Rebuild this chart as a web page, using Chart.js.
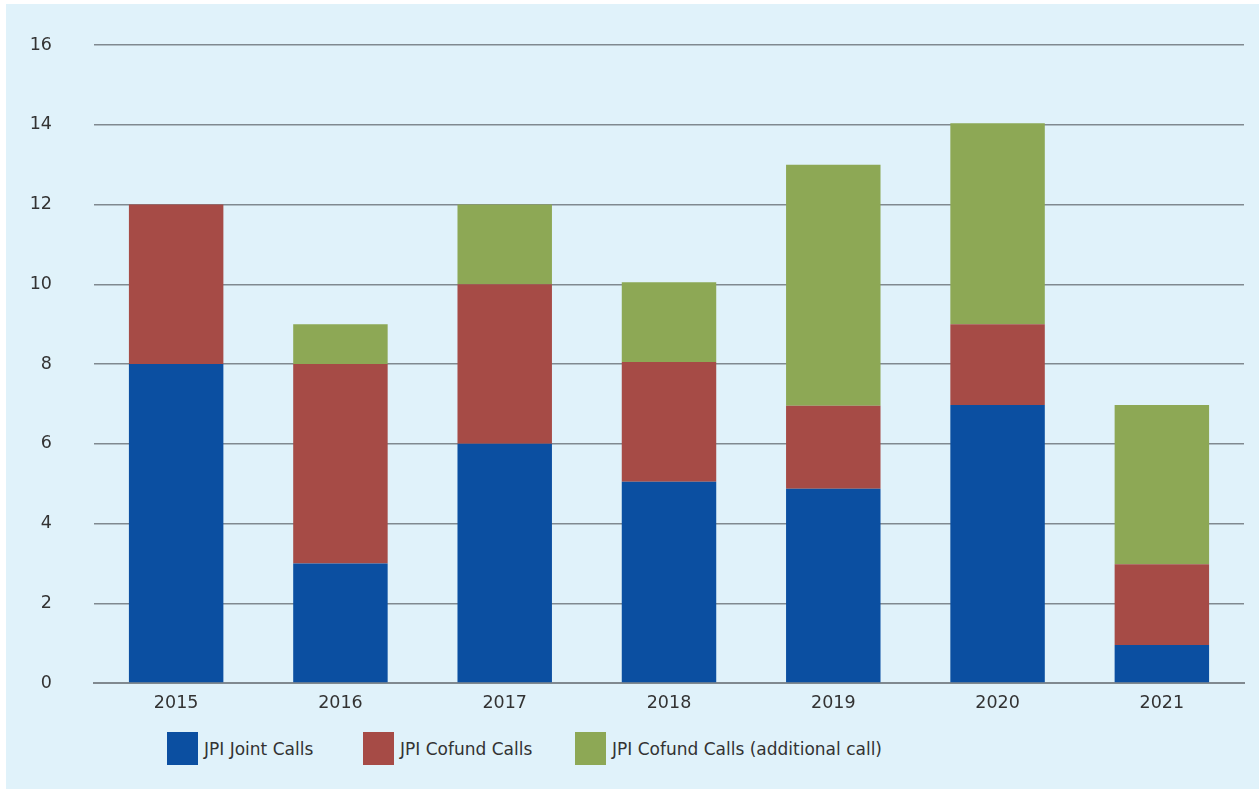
<!DOCTYPE html>
<html>
<head>
<meta charset="utf-8">
<script src="https://cdn.jsdelivr.net/npm/chart.js@4.4.1/dist/chart.umd.min.js"></script>
<style>
  html, body { margin: 0; padding: 0; background: #ffffff; }
  #panel {
    position: absolute; left: 6px; top: 4px; width: 1253px; height: 785px;
    background: #e0f2fa;
  }
  #wrap { position: absolute; left: 0; top: 0; width: 1253px; height: 720px; }
  #legend {
    position: absolute; left: 0; top: 728px; width: 1253px; height: 34px;
    font-family: "DejaVu Sans", sans-serif; font-size: 17px; color: #333;
  }
  .item { position: absolute; top: 0; display: flex; align-items: center; }
  .box { width: 31px; height: 33px; margin-right: 6px; }
</style>
</head>
<body>
<div id="panel">
  <div id="wrap"><canvas id="myChart"></canvas></div>
  <div id="legend"></div>
</div>
<script>
// categories and series
const years = ['2015', '2016', '2017', '2018', '2019', '2020', '2021'];
const jointCalls = [8, 3, 6, 5.05, 4.87, 6.97, 0.95];
const cofundCalls = [4, 5, 4, 3, 2.08, 2.03, 2.03];
const cofundAdditional = [0, 1, 2, 2, 6.05, 5.04, 3.99];
const yTicks = [0, 2, 4, 6, 8, 10, 12, 14, 16];

const seriesNames = ['JPI Joint Calls', 'JPI Cofund Calls', 'JPI Cofund Calls (additional call)'];
const seriesColors = ['#0b4fa1', '#a64b46', '#8da855'];
const legendLeft = [161, 357, 569];

const ctx = document.getElementById('myChart').getContext('2d');

const myChart = new Chart(ctx, {
    type: 'bar',
    data: {
        labels: years,
        datasets: [jointCalls, cofundCalls, cofundAdditional].map((values, i) => ({
            label: seriesNames[i],
            data: values,
            backgroundColor: seriesColors[i],
            borderWidth: 0,
            barPercentage: 0.575,
            categoryPercentage: 1
        }))
    },
    options: {
        responsive: true,
        maintainAspectRatio: false,
        animation: false,
        layout: { padding: { top: 41, right: 15, left: 24, bottom: 0 } },
        scales: {
            x: {
                stacked: true,
                grid: { display: false, drawTicks: false },
                border: { display: true, color: '#80898f', width: 2 },
                ticks: {
                    padding: 10,
                    color: '#333',
                    font: { family: 'DejaVu Sans', size: 17.5 }
                }
            },
            y: {
                stacked: true,
                min: 0,
                max: 16,
                afterBuildTicks: (axis) => {
                    axis.ticks = yTicks.map(v => ({ value: v }));
                },
                afterFit: (axis) => {
                    axis.width = 64;
                    axis.paddingTop = 0;
                    axis.paddingBottom = 0;
                },
                grid: { color: '#80898f', lineWidth: 1.5, drawTicks: false },
                border: { display: false },
                ticks: {
                    padding: 42,
                    color: '#333',
                    font: { family: 'DejaVu Sans', size: 17.5 }
                }
            }
        },
        plugins: {
            legend: { display: false },
            tooltip: { enabled: false }
        }
    }
});

// Build the legend below the chart from the datasets
const legendEl = document.getElementById('legend');
myChart.data.datasets.forEach((ds, i) => {
    const item = document.createElement('div');
    item.className = 'item';
    item.style.left = legendLeft[i] + 'px';
    const box = document.createElement('div');
    box.className = 'box';
    box.style.background = ds.backgroundColor;
    const text = document.createElement('span');
    text.textContent = ds.label;
    item.appendChild(box);
    item.appendChild(text);
    legendEl.appendChild(item);
});
</script>
</body>
</html>
